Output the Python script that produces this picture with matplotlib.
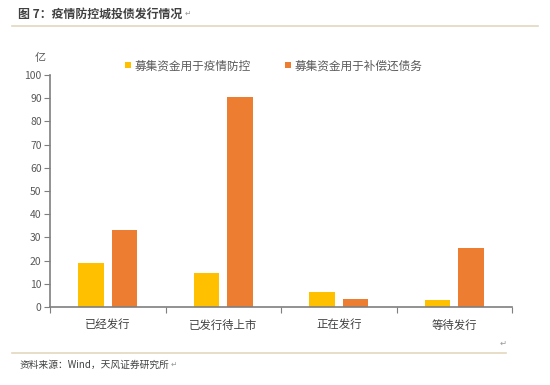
import numpy as np
import matplotlib.pyplot as plt
from matplotlib.lines import Line2D

plt.rcParams['font.family'] = ['Noto Sans CJK SC', 'DejaVu Sans']

categories = ['已经发行', '已发行待上市', '正在发行', '等待发行']
epidemic = [19.0, 14.7, 6.5, 3.0]
debt = [33.0, 90.6, 3.6, 25.4]
series_names = ['募集资金用于疫情防控', '募集资金用于补偿还债务']

yellow = '#FFC000'
orange = '#ED7D31'
grey = '#595959'

fig = plt.figure(figsize=(5.5, 3.85), dpi=100)
ax = fig.add_axes([50 / 550, 78 / 385, 462 / 550, 232 / 385])

x = np.arange(len(categories))
w = 0.225
ax.bar(x - 0.145, epidemic, w, color=yellow, label=series_names[0])
ax.bar(x + 0.145, debt, w, color=orange, label=series_names[1])

ax.set_xlim(-0.5, len(categories) - 0.5)
ax.set_ylim(0, 100)
ax.set_yticks(range(0, 101, 10))
ax.tick_params(axis='y', labelsize=7.5, colors=grey, length=4, width=0.8, pad=2)

# category boundary ticks on x axis
ax.set_xticks(np.arange(-0.5, len(categories), 1.0))
ax.set_xticklabels([])
ax.set_xticks(x, minor=True)
ax.set_xticklabels(categories, minor=True, fontsize=8.2, color='#404040')
ax.tick_params(axis='x', which='major', length=4, width=0.8, color='#7f7f7f')
ax.tick_params(axis='x', which='minor', length=0, pad=9)

for s in ['top', 'right']:
    ax.spines[s].set_visible(False)
for s in ['left', 'bottom']:
    ax.spines[s].set_color('#7f7f7f')
    ax.spines[s].set_linewidth(1.2)
ax.tick_params(axis='y', color='#7f7f7f')

ax.legend(loc='center', bbox_to_anchor=(0.484, 1.04), ncol=2, frameon=False,
          fontsize=8.4, handlelength=0.5, handleheight=0.5, handletextpad=0.35,
          columnspacing=2.9, labelcolor=grey, borderaxespad=0, borderpad=0)

fig.text(40 / 550, 1 - 58 / 385, '亿', fontsize=8, color=grey, ha='center', va='center')

# header and footer
fig.text(18 / 550, 1 - 14 / 385, '图 7：疫情防控城投债发行情况', fontsize=8.6, fontweight='bold',
         color='#404040', va='center')
fig.text(185 / 550, 1 - 14 / 385, '↵', fontsize=5.5, color='#999999', ha='left', va='center')
fig.add_artist(Line2D([12 / 550, 538 / 550], [1 - 26 / 385, 1 - 26 / 385],
                      color='#e3d7bf', lw=1.2, transform=fig.transFigure))
fig.add_artist(Line2D([12 / 550, 506 / 550], [1 - 353 / 385, 1 - 353 / 385],
                      color='#e3d7bf', lw=1.2, transform=fig.transFigure))
fig.text(20 / 550, 1 - 365 / 385, '资料来源：Wind，天风证券研究所', fontsize=7,
         color='#404040', va='center')
fig.text(171 / 550, 1 - 365 / 385, '↵', fontsize=5.5, color='#999999', ha='left', va='center')
fig.text(503 / 550, 1 - 343 / 385, '↵', fontsize=6, color='#999999', ha='center', va='center')

fig.savefig('out.png', dpi=100)
